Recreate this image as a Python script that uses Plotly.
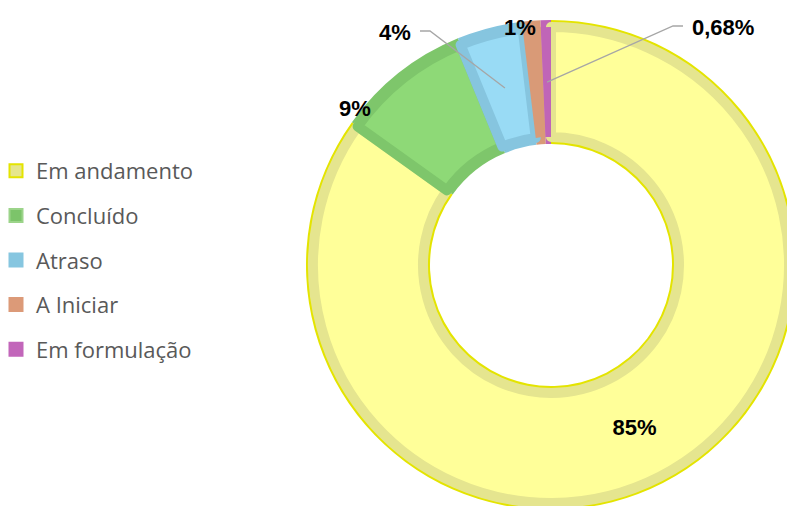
import math

import plotly.graph_objects as go

# slice data, clockwise from 12 o'clock
labels = ["Em andamento", "Concluído", "Atraso", "A Iniciar", "Em formulação"]
values = [84.9, 8.9, 4.3, 1.22, 0.68]

fill_colors = ["#ffff99", "#8ed977", "#99dbf5", "#d99a77", "#c065b7"]
band_colors = ["#e5e58f", "#7ec66b", "#86c5df", "#d99a77", "#c065b7"]
edge_colors = ["#e4e400", "#7ec66b", "#86c5df", "#d99a77", "#c065b7"]
band_widths = [10, 10, 10, 0, 0]

legend_fill = ["#e6e68c", "#7cc46a", "#86c6e0", "#dc9a78", "#c266ba"]
legend_line = ["#e4e400", "#9cd48a", "#86c6e0", "#dc9a78", "#c266ba"]

W, H = 800, 520
CX, CY = 551, 265
R_OUT, R_IN = 245, 121
EDGE = 2
BAND = 10

LABEL_FONT = dict(family="Liberation Sans, Arial", size=22, color="#000000", weight="bold")


def pct_text(v):
    """Portuguese style percent label"""
    if v < 1:
        return f"{v:.2f}".replace(".", ",") + "%"
    return f"{v:.0f}%"


def domain(radius):
    return dict(
        x=[(CX - radius) / W, (CX + radius) / W],
        y=[1 - (CY + radius) / H, 1 - (CY - radius) / H],
    )


def px(x, y):
    return x / W, 1 - y / H


def slice_anchor(i, radius):
    """point at the middle of slice i, in pixels"""
    total = sum(values)
    start = sum(values[:i]) / total
    mid = (start + values[i] / total / 2) * 2 * math.pi
    return CX + radius * math.sin(mid), CY - radius * math.cos(mid)


fig = go.Figure()

# outer edge layer (thin bright rim on the yellow slice)
fig.add_trace(
    go.Pie(
        labels=labels,
        values=values,
        sort=False,
        direction="clockwise",
        rotation=0,
        hole=R_IN / R_OUT,
        domain=domain(R_OUT),
        marker=dict(colors=edge_colors, line=dict(width=0)),
        textinfo="none",
        hoverinfo="skip",
        showlegend=False,
    )
)

# main fill with darker band drawn as a stroke
r_c = R_OUT - EDGE - BAND / 2
r_h = R_IN + EDGE + BAND / 2
inside_text = [pct_text(v) if i == 0 else "" for i, v in enumerate(values)]
fig.add_trace(
    go.Pie(
        labels=labels,
        values=values,
        sort=False,
        direction="clockwise",
        rotation=0,
        hole=r_h / r_c,
        domain=domain(r_c),
        marker=dict(colors=fill_colors, line=dict(color=band_colors, width=band_widths)),
        text=inside_text,
        textinfo="text",
        textposition="inside",
        insidetextorientation="horizontal",
        textfont=LABEL_FONT,
        showlegend=False,
    )
)

# legend entries
for name, fc, lc in zip(labels, legend_fill, legend_line):
    fig.add_trace(
        go.Scatter(
            x=[None],
            y=[None],
            mode="markers",
            name=name,
            legendgroup=name,
            marker=dict(symbol="square", size=13, color=fc, line=dict(color=lc, width=2)),
        )
    )

# outside labels (Excel style placement)
outside = {1: (355, 108, False), 2: (395, 32, True), 3: (520, 27, False), 4: (723, 27, True)}
for i, (lx, ly, leader) in outside.items():
    x, y = px(lx, ly)
    fig.add_annotation(
        x=x, y=y, xref="paper", yref="paper", text=pct_text(values[i]),
        showarrow=False, font=LABEL_FONT, xanchor="center", yanchor="middle",
    )
    if leader:
        ax, ay = slice_anchor(i, (R_OUT + R_IN) / 2)
        side = 1 if ax > lx else -1
        half = 16 if values[i] >= 1 else 31
        sx = lx + side * (half + 9)
        ex = sx + side * 10
        p0, p1, p2 = px(sx, ly - 1), px(ex, ly - 1), px(ax, ay)
        fig.add_shape(
            type="path",
            xref="paper",
            yref="paper",
            path=f"M {p0[0]} {p0[1]} L {p1[0]} {p1[1]} L {p2[0]} {p2[1]}",
            line=dict(color="#a6a6a6", width=1.3),
        )

fig.update_layout(
    width=W,
    height=H,
    margin=dict(l=0, r=0, t=0, b=0, autoexpand=False),
    paper_bgcolor="white",
    plot_bgcolor="white",
    xaxis=dict(visible=False),
    yaxis=dict(visible=False),
    legend=dict(
        x=-4 / W,
        y=1 - 150 / H,
        xanchor="left",
        yanchor="top",
        traceorder="grouped",
        tracegroupgap=13,
        font=dict(family="Open Sans", size=22, color="#595959"),
        bgcolor="rgba(0,0,0,0)",
    ),
)

fig.write_html(
    "out.html",
    config={"displayModeBar": False},
    post_script="document.body.style.margin='0';document.body.style.overflow='hidden';",
)
